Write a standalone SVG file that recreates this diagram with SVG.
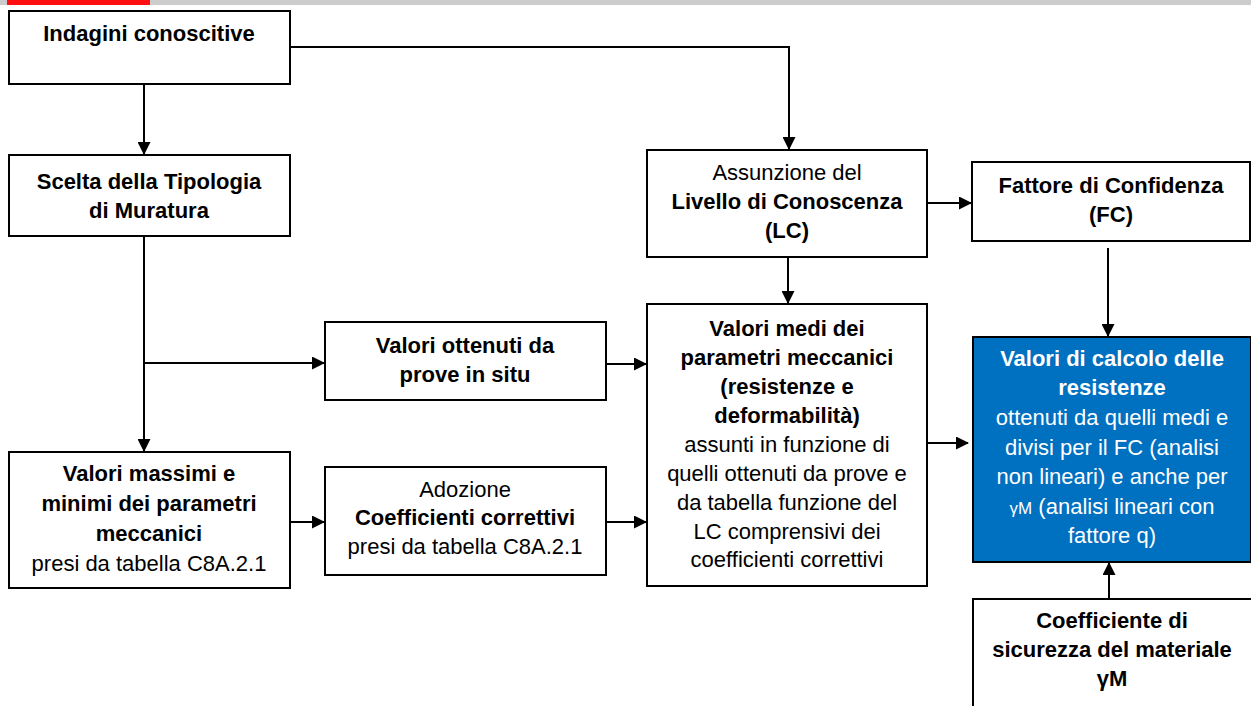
<svg xmlns="http://www.w3.org/2000/svg" width="1251" height="706" viewBox="0 0 1251 706">
<defs>
<style>
.box{fill:#fff;stroke:#000;stroke-width:2}
.blue{fill:#0070C0;stroke:#000;stroke-width:2}
text{font-family:"Liberation Sans",Arial,sans-serif;font-size:22px;fill:#000;text-anchor:middle}
.b{font-weight:bold}
.w{fill:#fff}
.c{fill:none;stroke:#000;stroke-width:2}
</style>
<marker id="ah" markerWidth="13" markerHeight="13" refX="12" refY="6.5" orient="auto" markerUnits="userSpaceOnUse">
<path d="M0,0 L13,6.5 L0,13 Z" fill="#000"/>
</marker>
</defs>
<rect x="0" y="0" width="1251" height="5" fill="#cccccc"/>
<rect x="7" y="0" width="143" height="5" fill="#ff1010"/>

<g id="connectors">
<path class="c" d="M290,47 H789 V149" marker-end="url(#ah)"/>
<path class="c" d="M144,84 V154" marker-end="url(#ah)"/>
<path class="c" d="M144,236 V451" marker-end="url(#ah)"/>
<path class="c" d="M144,363 H324" marker-end="url(#ah)"/>
<path class="c" d="M290,522 H324" marker-end="url(#ah)"/>
<path class="c" d="M606,364 H646" marker-end="url(#ah)"/>
<path class="c" d="M606,522 H646" marker-end="url(#ah)"/>
<path class="c" d="M788,257 V303" marker-end="url(#ah)"/>
<path class="c" d="M927,203 H971" marker-end="url(#ah)"/>
<path class="c" d="M1108,248 V336" marker-end="url(#ah)"/>
<path class="c" d="M927,443 H968" marker-end="url(#ah)"/>
<path class="c" d="M1109,599 V563" marker-end="url(#ah)"/>
</g>

<g id="n-indagini">
<rect class="box" x="9" y="11" width="281" height="73"/>
<text class="b" x="149" y="41">Indagini conoscitive</text>
</g>
<g id="n-tipologia">
<rect class="box" x="9" y="155" width="281" height="81"/>
<text class="b" x="149" y="189">Scelta della Tipologia</text>
<text class="b" x="149" y="218">di Muratura</text>
</g>
<g id="n-lc">
<rect class="box" x="647" y="150" width="280" height="107"/>
<text x="787" y="180">Assunzione del</text>
<text class="b" x="787" y="209">Livello di Conoscenza</text>
<text class="b" x="787" y="238">(LC)</text>
</g>
<g id="n-fc">
<rect class="box" x="972" y="162" width="278" height="79"/>
<text class="b" x="1111" y="193">Fattore di Confidenza</text>
<text class="b" x="1111" y="222">(FC)</text>
</g>
<g id="n-prove">
<rect class="box" x="325" y="322" width="281" height="78"/>
<text class="b" x="465" y="353">Valori ottenuti da</text>
<text class="b" x="465" y="382">prove in situ</text>
</g>
<g id="n-coeff">
<rect class="box" x="325" y="467" width="281" height="108"/>
<text x="465" y="497">Adozione</text>
<text class="b" x="465" y="525">Coefficienti correttivi</text>
<text x="465" y="554">presi da tabella C8A.2.1</text>
</g>
<g id="n-massimi">
<rect class="box" x="9" y="452" width="281" height="136"/>
<text class="b" x="149" y="481">Valori massimi e</text>
<text class="b" x="149" y="511">minimi dei parametri</text>
<text class="b" x="149" y="541">meccanici</text>
<text x="149" y="571">presi da tabella C8A.2.1</text>
</g>
<g id="n-medi">
<rect class="box" x="647" y="304" width="280" height="282"/>
<text class="b" x="787" y="336">Valori medi dei</text>
<text class="b" x="787" y="365">parametri meccanici</text>
<text class="b" x="787" y="394">(resistenze e</text>
<text class="b" x="787" y="423">deformabilità)</text>
<text x="787" y="452">assunti in funzione di</text>
<text x="787" y="481">quelli ottenuti da prove e</text>
<text x="787" y="510">da tabella funzione del</text>
<text x="787" y="539">LC comprensivi dei</text>
<text x="787" y="567">coefficienti correttivi</text>
</g>
<g id="n-calcolo">
<rect class="blue" x="973" y="337" width="278" height="225"/>
<text class="b w" x="1112" y="366">Valori di calcolo delle</text>
<text class="b w" x="1112" y="395">resistenze</text>
<text class="w" x="1112" y="425">ottenuti da quelli medi e</text>
<text class="w" x="1112" y="455">divisi per il FC (analisi</text>
<text class="w" x="1112" y="484">non lineari) e anche per</text>
<text class="w" x="1112" y="514"><tspan font-size="17">γM</tspan> (analisi lineari con</text>
<text class="w" x="1112" y="543">fattore q)</text>
</g>
<g id="n-gamma">
<rect class="box" x="973" y="599" width="280" height="110"/>
<text class="b" x="1112" y="628">Coefficiente di</text>
<text class="b" x="1112" y="657">sicurezza del materiale</text>
<text class="b" x="1112" y="686" font-size="17">γM</text>
</g>
</svg>
